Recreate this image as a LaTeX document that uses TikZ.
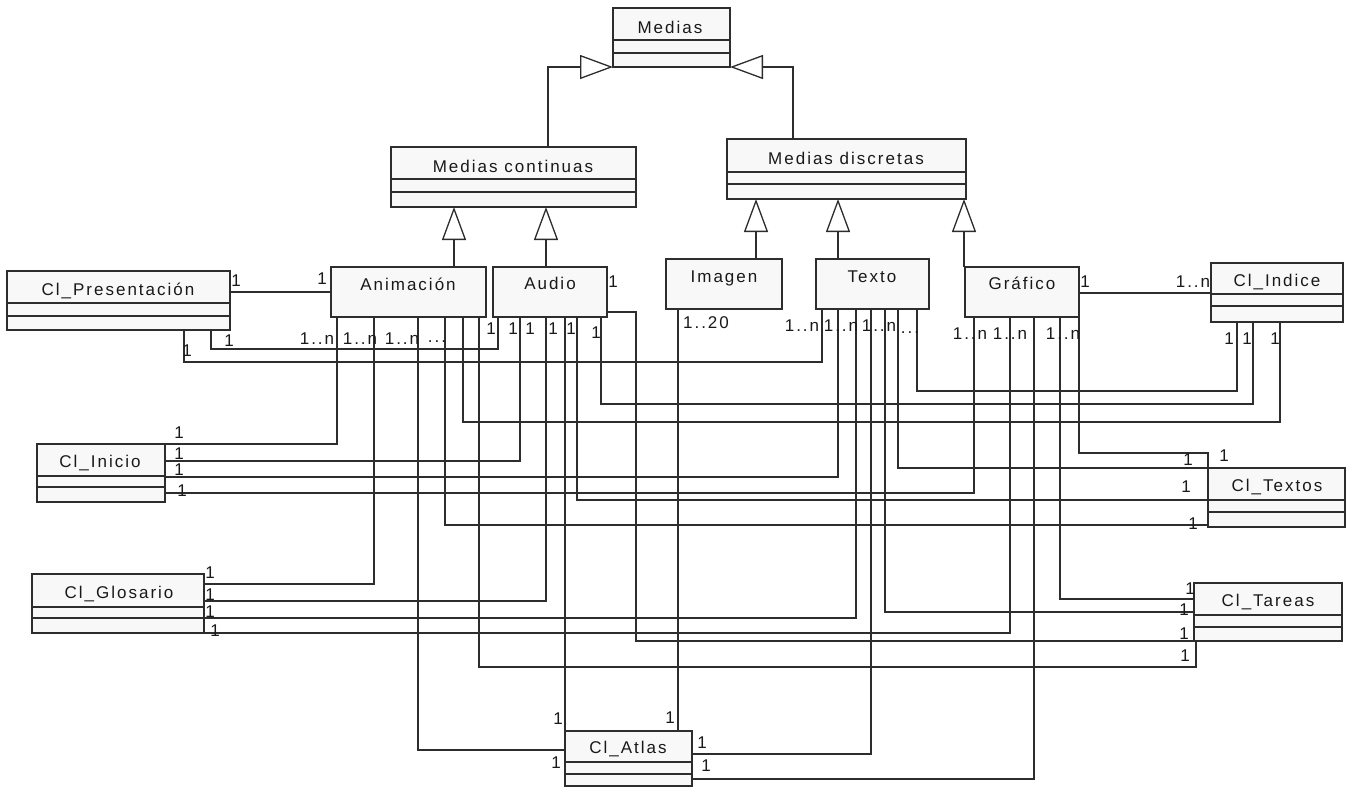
\documentclass[tikz,border=0pt]{standalone}
\usepackage{fontspec}
\newfontfamily\umlfont[LetterSpace=11.8]{Liberation Sans}
\usetikzlibrary{arrows.meta}
\definecolor{linec}{RGB}{45,45,45}
\definecolor{boxfill}{RGB}{248,248,248}
\definecolor{textc}{RGB}{25,25,25}
\begin{document}
\begin{tikzpicture}[x=1pt,y=-1pt,
  box/.style={draw=linec, fill=boxfill, line width=1.3pt, inner sep=0pt, outer sep=0pt, anchor=north west},
  conn/.style={draw=linec, line width=1.3pt},
  gen/.style={conn, -{Triangle[open, length=33pt, width=24pt]}},
  lbl/.style={font=\umlfont\fontsize{17}{20}\selectfont, text=textc, inner sep=0pt, outer sep=0pt, text height=12pt, text depth=0pt, anchor=center},
  mult/.style={lbl}]
\fill[white] (0,0) rectangle (1347,788);
\useasboundingbox (0,0) rectangle (1347,788);

% ---------- classes ----------
\node[box, minimum width=117pt, minimum height=59pt] (medias) at (613,8) {};
\node[box, minimum width=245pt, minimum height=60pt] (mc) at (391,147) {};
\node[box, minimum width=239pt, minimum height=60pt] (md) at (727,139) {};
\node[box, minimum width=155pt, minimum height=50pt] (anim) at (331,267) {};
\node[box, minimum width=114pt, minimum height=50pt] (audio) at (493,267) {};
\node[box, minimum width=116pt, minimum height=50pt] (img) at (666,259) {};
\node[box, minimum width=113pt, minimum height=50pt] (texto) at (816,259) {};
\node[box, minimum width=114pt, minimum height=50pt] (graf) at (965,267) {};
\node[box, minimum width=223pt, minimum height=59pt] (pres) at (7,271) {};
\node[box, minimum width=132pt, minimum height=59pt] (indice) at (1211,263) {};
\node[box, minimum width=128pt, minimum height=58pt] (inicio) at (37,444) {};
\node[box, minimum width=137pt, minimum height=59pt] (textos) at (1208,468) {};
\node[box, minimum width=172pt, minimum height=59pt] (glos) at (32,574) {};
\node[box, minimum width=148pt, minimum height=58pt] (tareas) at (1194,583) {};
\node[box, minimum width=127pt, minimum height=55pt] (atlas) at (565,731) {};

% compartments
\foreach \n/\a/\b in {medias/40/53, mc/179/192, md/172/184, pres/303/316, indice/294/306,
  inicio/476/487, textos/500/512, glos/607/618, tareas/615/627, atlas/762/774}{
  \draw[conn] (\n.west |- 0,\a) -- (\n.east |- 0,\a);
  \draw[conn] (\n.west |- 0,\b) -- (\n.east |- 0,\b);
}

% names
\node[lbl] (t-medias) at (670,27) {Medias};
\node[lbl] (t-mc) at (513,166) {Medias continuas};
\node[lbl] (t-md) at (846,158) {Medias discretas};
\node[lbl] (t-anim) at (408,284) {Animación};
\node[lbl] (t-audio) at (550,283) {Audio};
\node[lbl] (t-img) at (724,276) {Imagen};
\node[lbl] (t-texto) at (872,276) {Texto};
\node[lbl] (t-graf) at (1022,283) {Gráfico};
\node[lbl] (t-pres) at (118,289) {Cl\_Presentación};
\node[lbl] (t-indice) at (1277,280) {Cl\_Indice};
\node[lbl] (t-inicio) at (100,461) {Cl\_Inicio};
\node[lbl] (t-textos) at (1277,485) {Cl\_Textos};
\node[lbl] (t-glos) at (119,592) {Cl\_Glosario};
\node[lbl] (t-tareas) at (1268,600) {Cl\_Tareas};
\node[lbl] (t-atlas) at (628,747) {Cl\_Atlas};

% ---------- generalizations ----------
\draw[gen] (mc.north -| 548,0) |- (medias.south west);
\draw[gen] (md.north -| 793,0) |- (medias.south east);
\draw[gen] (anim.north -| 454,0) -- (mc.south -| 454,0);
\draw[gen] (audio.north -| 546,0) -- (mc.south -| 546,0);
\draw[gen] (img.north -| 756,0) -- (md.south -| 756,0);
\draw[gen] (texto.north -| 838,0) -- (md.south -| 838,0);
\draw[gen] (graf.north -| 964,0) -- (md.south -| 964,0);

% ---------- associations ----------
\draw[conn] (pres.east |- 0,292) -- (anim.west |- 0,292);
\draw[conn] (graf.east |- 0,293) -- (indice.west |- 0,293);
\draw[conn] (pres.south -| 211,0) |- (498,349) -- (audio.south -| 498,0);
\draw[conn] (pres.south -| 184,0) |- (822,362) -- (texto.south -| 822,0);
% Cl_Inicio
\draw[conn] (anim.south -| 337,0) |- (inicio.north east);
\draw[conn] (audio.south -| 520,0) |- (inicio.east |- 0,461);
\draw[conn] (texto.south -| 838,0) |- (inicio.east |- 0,477);
\draw[conn] (graf.south -| 974,0) |- (inicio.east |- 0,493);
% Cl_Glosario
\draw[conn] (anim.south -| 374,0) |- (glos.east |- 0,584);
\draw[conn] (audio.south -| 546,0) |- (glos.east |- 0,601);
\draw[conn] (texto.south -| 856,0) |- (glos.east |- 0,618);
\draw[conn] (graf.south -| 1010,0) |- (glos.south east);
% Cl_Atlas
\draw[conn] (anim.south -| 418,0) |- (atlas.west |- 0,750);
\draw[conn] (audio.south -| 565,0) -- (atlas.north west);
\draw[conn] (img.south -| 678,0) -- (atlas.north -| 678,0);
\draw[conn] (texto.south -| 871,0) |- (atlas.east |- 0,754);
\draw[conn] (graf.south -| 1034,0) |- (atlas.east |- 0,779);
% Cl_Textos
\draw[conn] (anim.south -| 445,0) |- (textos.west |- 0,525);
\draw[conn] (audio.south -| 577,0) |- (textos.west |- 0,500);
\draw[conn] (texto.south -| 898,0) |- (textos.north west);
\draw[conn] (graf.south east) |- (1208,453) -- (textos.north west);
% Cl_Indice
\draw[conn] (anim.south -| 463,0) |- (1280,422) -- (indice.south -| 1280,0);
\draw[conn] (audio.south -| 601,0) |- (1253,404) -- (indice.south -| 1253,0);
\draw[conn] (texto.south -| 917,0) |- (1237,391) -- (indice.south -| 1237,0);
% Cl_Tareas
\draw[conn] (anim.south -| 479,0) |- (1196,667) -- (tareas.south -| 1196,0);
\draw[conn] (audio.east |- 0,312) -| (636,641) -- (tareas.south west);
\draw[conn] (texto.south -| 885,0) |- (tareas.west |- 0,612);
\draw[conn] (graf.south -| 1060,0) |- (tareas.west |- 0,599);

% ---------- multiplicities ----------
\node[mult] (m1) at (236,280) {1};
\node[mult] (m2) at (322,278) {1};
\node[mult] (m3) at (229,340) {1};
\node[mult] (m4) at (187,350) {1};
\node[mult] (m5) at (317,338) {1..n};
\node[mult] (m6) at (360,338) {1..n};
\node[mult] (m7) at (402,338) {1..n};
\node[mult] (m8) at (437,336) {...};
\node[mult] (m9) at (613,281) {1};
\node[mult] (m10) at (491,328) {1};
\node[mult] (m11) at (513,328) {1};
\node[mult] (m12) at (530,328) {1};
\node[mult] (m13) at (553,328) {1};
\node[mult] (m14) at (571,328) {1};
\node[mult] (m15) at (596,332) {1};
\node[mult] (m16) at (706,322) {1..20};
\node[mult] (m17) at (802,325) {1..n};
\node[mult] (m18) at (841,325) {1..n};
\node[mult] (m19) at (879,325) {1..n};
\node[mult] (m20) at (910,327) {...};
\node[mult] (m21) at (1085,281) {1};
\node[mult] (m22) at (970,333) {1..n};
\node[mult] (m23) at (1010,333) {1..n};
\node[mult] (m24) at (1063,333) {1..n};
\node[mult] (m25) at (1193,281) {1..n};
\node[mult] (m26) at (1229,338) {1};
\node[mult] (m27) at (1247,338) {1};
\node[mult] (m28) at (1275,338) {1};
\node[mult] (m29) at (179,432) {1};
\node[mult] (m30) at (179,453) {1};
\node[mult] (m31) at (179,469) {1};
\node[mult] (m32) at (182,490) {1};
\node[mult] (m33) at (210,572) {1};
\node[mult] (m34) at (210,594) {1};
\node[mult] (m35) at (210,611) {1};
\node[mult] (m36) at (215,630) {1};
\node[mult] (m37) at (1188,459) {1};
\node[mult] (m38) at (1224,455) {1};
\node[mult] (m39) at (1186,486) {1};
\node[mult] (m40) at (1193,523) {1};
\node[mult] (m41) at (1190,588) {1};
\node[mult] (m42) at (1184,609) {1};
\node[mult] (m43) at (1184,633) {1};
\node[mult] (m44) at (1185,655) {1};
\node[mult] (m45) at (558,718) {1};
\node[mult] (m46) at (670,717) {1};
\node[mult] (m47) at (702,742) {1};
\node[mult] (m48) at (556,762) {1};
\node[mult] (m49) at (706,765) {1};
\end{tikzpicture}
\end{document}
